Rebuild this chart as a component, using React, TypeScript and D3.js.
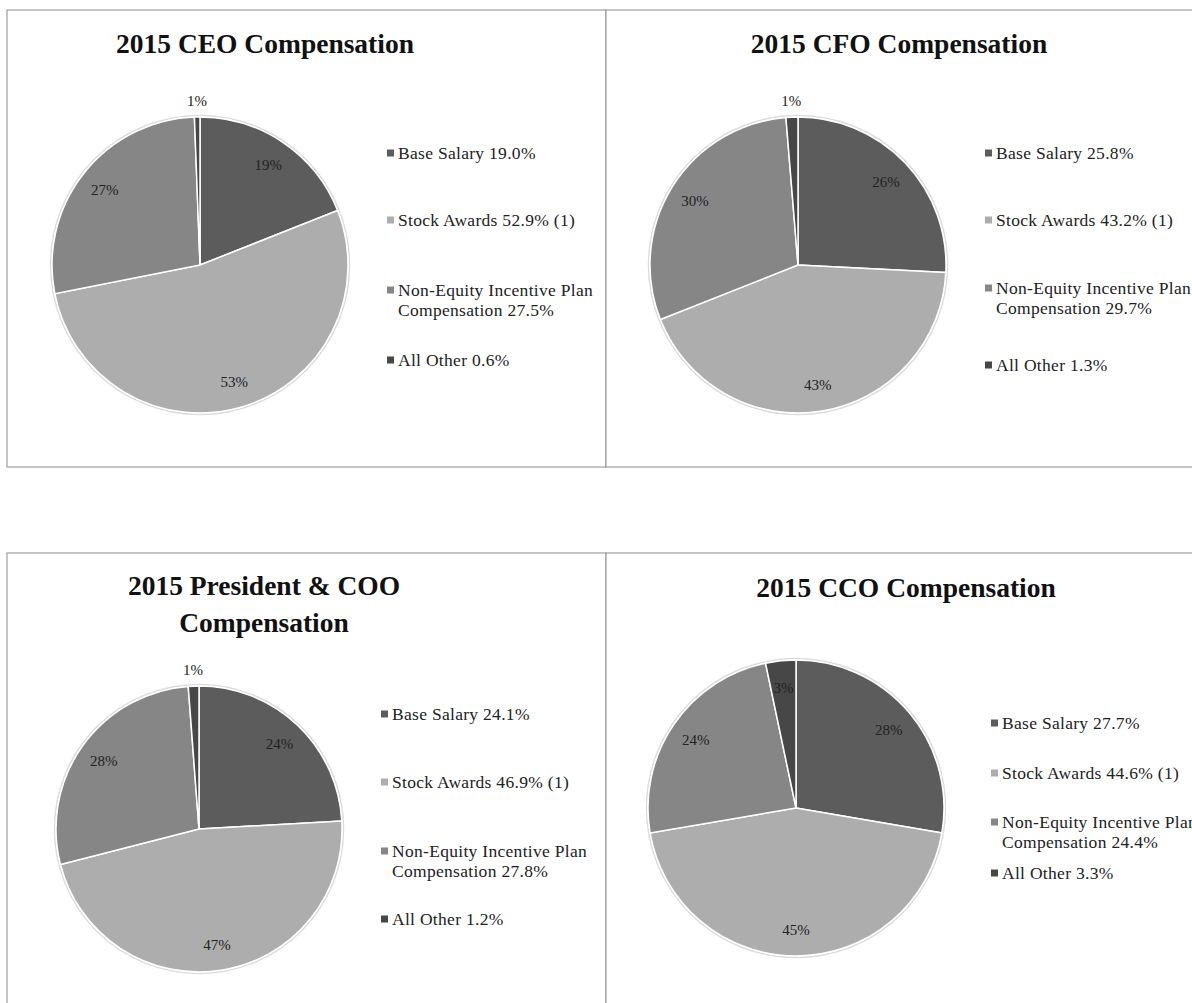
import React from "react";
import * as d3 from "d3";

const categories = ["Base Salary", "Stock Awards", "Non-Equity Incentive Plan Compensation", "All Other"];
const colors = ["#5c5c5c", "#adadad", "#868686", "#474747"];

const titles = [
  ["2015 CEO Compensation"],
  ["2015 CFO Compensation"],
  ["2015 President & COO", "Compensation"],
  ["2015 CCO Compensation"],
];

const ceoValues = [19.0, 52.9, 27.5, 0.6];
const cfoValues = [25.8, 43.2, 29.7, 1.3];
const cooValues = [24.1, 46.9, 27.8, 1.2];
const ccoValues = [27.7, 44.6, 24.4, 3.3];

const ceoLabels = ["19%", "53%", "27%", "1%"];
const cfoLabels = ["26%", "43%", "30%", "1%"];
const cooLabels = ["24%", "47%", "28%", "1%"];
const ccoLabels = ["28%", "45%", "24%", "3%"];

const ceoLegend = [["Base Salary 19.0%"], ["Stock Awards 52.9% (1)"], ["Non-Equity Incentive Plan", "Compensation 27.5%"], ["All Other 0.6%"]];
const cfoLegend = [["Base Salary 25.8%"], ["Stock Awards 43.2% (1)"], ["Non-Equity Incentive Plan", "Compensation 29.7%"], ["All Other 1.3%"]];
const cooLegend = [["Base Salary 24.1%"], ["Stock Awards 46.9% (1)"], ["Non-Equity Incentive Plan", "Compensation 27.8%"], ["All Other 1.2%"]];
const ccoLegend = [["Base Salary 27.7%"], ["Stock Awards 44.6% (1)"], ["Non-Equity Incentive Plan", "Compensation 24.4%"], ["All Other 3.3%"]];

// layout
const panels = [
  { values: ceoValues, labels: ceoLabels, legend: ceoLegend, title: titles[0], box: [7, 10, 599, 457], cx: 200, cy: 265, r: 148, titleX: 265, titleY: 53, legX: 387, legY: [153, 220, 290, 360] },
  { values: cfoValues, labels: cfoLabels, legend: cfoLegend, title: titles[1], box: [606, 10, 600, 457], cx: 798, cy: 265, r: 148, titleX: 899, titleY: 53, legX: 985, legY: [153, 220, 288, 365] },
  { values: cooValues, labels: cooLabels, legend: cooLegend, title: titles[2], box: [7, 553, 599, 460], cx: 199, cy: 829, r: 143, titleX: 264, titleY: 595, legX: 381, legY: [714, 782, 851, 919] },
  { values: ccoValues, labels: ccoLabels, legend: ccoLegend, title: titles[3], box: [606, 553, 600, 460], cx: 796, cy: 808, r: 148, titleX: 906, titleY: 597, legX: 991, legY: [723, 773, 822, 873] },
];

const font = "'Liberation Serif', 'Times New Roman', serif";

function Pie({ p }: { p: any }) {
  const pie = d3.pie<number>().sort(null).value((d) => d);
  const arcs = pie(p.values);
  const arc = d3.arc<d3.PieArcDatum<number>>().innerRadius(0).outerRadius(p.r);
  const total = d3.sum(p.values as number[]);
  return (
    <g>
      <rect x={p.box[0]} y={p.box[1]} width={p.box[2]} height={p.box[3]} fill="white" stroke="#8c8c8c" strokeWidth={1} />
      {p.title.map((t: string, i: number) => (
        <text key={i} x={p.titleX} y={p.titleY + i * 37} textAnchor="middle" fontFamily={font} fontWeight="bold" fontSize={27.5} fill="#111">
          {t}
        </text>
      ))}
      <g transform={`translate(${p.cx},${p.cy})`}>
        <circle r={p.r + 1.5} fill="none" stroke="#dcdcdc" strokeWidth={1.5} />
        {arcs.map((a, i) => (
          <path key={i} d={arc(a) || ""} fill={colors[i]} stroke="white" strokeWidth={1.5} />
        ))}
        {arcs.map((a, i) => {
          const mid = (a.startAngle + a.endAngle) / 2;
          const small = a.data / total < 0.02;
          const rr = small ? p.r + 16 : p.r * 0.82;
          const x = Math.sin(mid) * rr;
          const y = -Math.cos(mid) * rr;
          return (
            <text key={"l" + i} x={x} y={y} dy="0.35em" textAnchor="middle" fontFamily={font} fontSize={15} fill="#222">
              {p.labels[i]}
            </text>
          );
        })}
      </g>
      {p.legend.map((lines: string[], i: number) => (
        <g key={"g" + i}>
          <rect x={p.legX} y={p.legY[i] - 3.5} width={7} height={7} fill={colors[i]} />
          {lines.map((ln, j) => (
            <text key={j} x={p.legX + 11} y={p.legY[i] + j * 20} dy="0.35em" fontFamily={font} fontSize={17.5} letterSpacing={0.3} fill="#222">
              {ln}
            </text>
          ))}
        </g>
      ))}
    </g>
  );
}

export default function App() {
  return (
    <svg width={1192} height={1003} style={{ position: "absolute", left: 0, top: 0, background: "white" }}>
      <rect x={0} y={0} width={1192} height={1003} fill="white" />
      {panels.map((p, i) => (
        <Pie key={i} p={p} />
      ))}
    </svg>
  );
}
